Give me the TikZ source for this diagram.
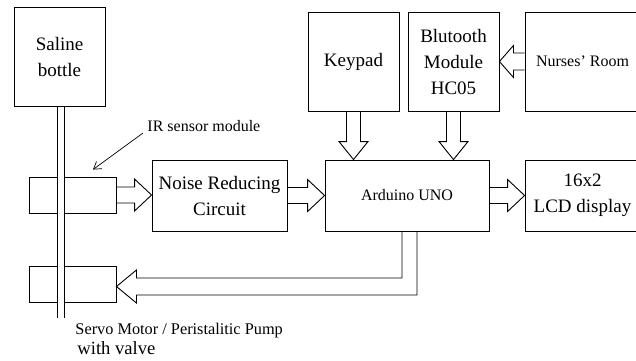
\documentclass[tikz,border=0pt]{standalone}
\usepackage{fontspec}
\setmainfont{Liberation Serif}
\usetikzlibrary{calc,arrows.meta}
\newcommand\rightblk[2]{\draw[blk] ($(#1)+(0,-8)$) -- ($(#2)+(-17,-8)$) -- ($(#2)+(-17,-16)$) -- (#2) -- ($(#2)+(-17,16)$) -- ($(#2)+(-17,8)$) -- ($(#1)+(0,8)$);}
\newcommand\leftblk[2]{\draw[blk] ($(#1)+(0,-8.5)$) -- ($(#2)+(14,-8.5)$) -- ($(#2)+(14,-16)$) -- (#2) -- ($(#2)+(14,16)$) -- ($(#2)+(14,8.5)$) -- ($(#1)+(0,8.5)$);}
\newcommand\downblk[2]{\draw[blk] ($(#1)+(-7,0)$) -- ($(#2)+(-7,-18)$) -- ($(#2)+(-14.5,-18)$) -- (#2) -- ($(#2)+(14.5,-18)$) -- ($(#2)+(7,-18)$) -- ($(#1)+(7,0)$);}
\begin{document}
\begin{tikzpicture}[x=1pt,y=-1pt,line width=0.9pt,
  box/.style={draw, inner sep=0pt, align=center},
  big/.style={font=\fontsize{19}{26}\selectfont},
  mid/.style={font=\fontsize{16}{20}\selectfont},
  blk/.style={draw, line join=miter}]
\useasboundingbox (0,0) rectangle (636,360);
\clip (0,0) rectangle (636,360);
% boxes
\node[box,big,minimum width=91pt,minimum height=99pt] (bottle) at (59.5,56.5) {Saline\\bottle};
\node[box,minimum width=87pt,minimum height=36pt] (sensor) at (72.5,195) {};
\node[box,minimum width=87pt,minimum height=36pt] (servo) at (72.5,284) {};
\node[box,big,minimum width=135pt,minimum height=71pt] (noise) at (219.5,195.5) {Noise Reducing\\Circuit};
\node[box,mid,minimum width=164pt,minimum height=71pt] (ard) at (407,195.5) {Arduino UNO};
\node[box,big,minimum width=115pt,minimum height=71pt] (lcd) at (582.5,195.5) {16x2\\LCD display};
\node[box,big,minimum width=91pt,minimum height=99pt] (kp) at (353.5,61.5) {Keypad};
\node[box,big,minimum width=91pt,minimum height=99pt] (bt) at (453.5,61.5) {Blutooth\\Module\\HC05};
\node[box,mid,minimum width=115pt,minimum height=99pt] (nr) at (582.5,61.5) {Nurses\symbol{39} Room};
% tube
\fill[white] ($(bottle.south)+(-2.5,1)$) rectangle ($(bottle.south)+(4.5,212)$);
\draw ($(bottle.south)+(-2.5,0)$) -- ++(0,212);
\draw ($(bottle.south)+(4.5,0)$) -- ++(0,212);
% block arrows
\coordinate (t1) at (noise.west |- sensor.east);
\rightblk{sensor.east}{t1}
\rightblk{noise.east}{ard.west}
\rightblk{ard.east}{lcd.west}
\leftblk{nr.west}{bt.east}
\coordinate (t2) at (kp.south |- ard.north);
\coordinate (t3) at (bt.south |- ard.north);
\downblk{kp.south}{t2}
\downblk{bt.south}{t3}
\coordinate (fb) at ($(ard.south)+(2.5,0)$);
\coordinate (t5) at ($(servo.east)+(0,2.5)$);
\draw[blk] ($(fb)+(-7.5,0)$) |- ($(t5)+(20,-8.5)$) -- ($(t5)+(20,-16.5)$) -- (t5) -- ($(t5)+(20,16.5)$) -- ($(t5)+(20,8.5)$) -| ($(fb)+(7.5,0)$);
% IR label
\node[mid, anchor=base west, inner sep=0pt] (irl) at (147,131) {IR sensor module};
\coordinate (irt) at ($(sensor.north)+(20.5,-7)$);
\draw[-{Straight Barb[length=7pt,width=9pt]}, line width=0.7pt] ($(irl.base west)+(-4,2)$) -- (irt);
% servo text
\node[font=\fontsize{16.3}{20}\selectfont, anchor=base west, inner sep=0pt] (sv1) at (75,334) {Servo Motor / Peristalitic Pump};
\node[font=\fontsize{18.6}{22}\selectfont, anchor=base west, inner sep=0pt] (sv2) at (77,354) {with valve};
\end{tikzpicture}
\end{document}
